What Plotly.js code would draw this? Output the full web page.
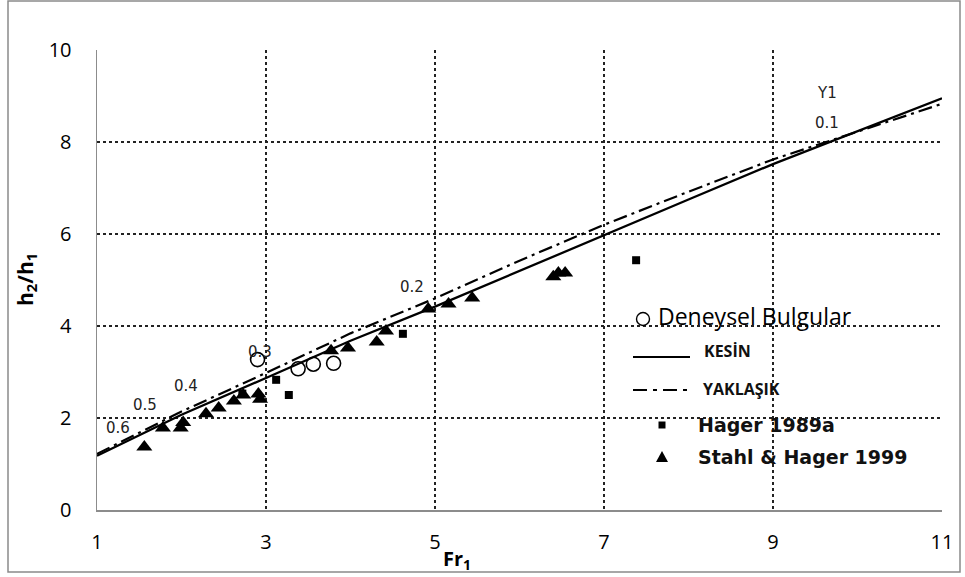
<!DOCTYPE html>
<html>
<head>
<meta charset="utf-8">
<script src="https://cdn.plot.ly/plotly-3.0.1.min.js"></script>
<style>
  html, body { margin: 0; padding: 0; background: #fff; }
  #chart { width: 965px; height: 577px; }
</style>
</head>
<body>
<div id="chart"></div>
<script>
// Froude number grid for the two theoretical curves
const frGrid = [1, 2, 3, 4, 5, 6, 7, 8, 9, 10, 11];
// KESİN (exact) sequent depth ratio
const kesinH = [1.18, 2.07, 2.87, 3.68, 4.42, 5.20, 5.98, 6.75, 7.52, 8.24, 8.95];
// YAKLAŞIK (approximate) sequent depth ratio
const yaklasikH = [1.22, 2.14, 2.98, 3.84, 4.60, 5.42, 6.20, 6.92, 7.62, 8.22, 8.83];

// Deneysel Bulgular (experimental results)
const deneyselFr = [2.90, 3.38, 3.56, 3.80];
const deneyselH = [3.27, 3.07, 3.17, 3.19];

// Hager 1989a
const hagerFr = [2.72, 3.12, 3.27, 4.62, 7.38];
const hagerH = [2.53, 2.83, 2.50, 3.83, 5.43];

// Stahl & Hager 1999
const stahlFr = [1.56, 1.78, 1.99, 2.02, 2.29, 2.44, 2.62, 2.73, 2.91, 2.93,
                 3.77, 3.97, 4.31, 4.42, 4.92, 5.16, 5.44, 6.40, 6.46, 6.54];
const stahlH = [1.37, 1.78, 1.78, 1.90, 2.09, 2.22, 2.37, 2.50, 2.52, 2.41,
                3.46, 3.52, 3.65, 3.89, 4.37, 4.48, 4.61, 5.07, 5.15, 5.15];

// Y1 parameter labels along the curves
const y1Labels = ['0.6', '0.5', '0.4', '0.3', '0.2', '0.1', 'Y1'];
const y1Fr = [1.25, 1.57, 2.05, 2.93, 4.73, 9.64, 9.64];
const y1H = [1.78, 2.28, 2.70, 3.43, 4.84, 8.41, 9.07];

// axis ticks and grid positions
const xTicks = [1, 3, 5, 7, 9, 11];
const xGrid = [3, 5, 7, 9];
const yTicks = [0, 2, 4, 6, 8, 10];

const tickFont = { family: 'Open Sans, sans-serif', size: 20, color: '#000' };

const traces = [
  {
    x: frGrid, y: kesinH, type: 'scatter', mode: 'lines', name: 'KESİN',
    line: { color: '#000', width: 2.3 }
  },
  {
    x: frGrid, y: yaklasikH, type: 'scatter', mode: 'lines', name: 'YAKLAŞIK',
    line: { color: '#000', width: 2.2, dash: '14px,5px,3px,5px' }
  },
  {
    x: stahlFr, y: stahlH, type: 'scatter', mode: 'markers', name: 'Stahl & Hager 1999',
    marker: { symbol: 'triangle-up', size: 14, color: '#000' }
  },
  {
    x: hagerFr, y: hagerH, type: 'scatter', mode: 'markers', name: 'Hager 1989a',
    marker: { symbol: 'square', size: 8, color: '#000' }
  },
  {
    x: deneyselFr, y: deneyselH, type: 'scatter', mode: 'markers', name: 'Deneysel Bulgular',
    marker: { symbol: 'circle-open', size: 14, color: '#000', line: { width: 1.6, color: '#000' } }
  }
];

// helpers: pixel -> paper for the plot area (left 97, right 942, top 50, bottom 510)
const L = 97, R = 942, T = 50, B = 510;
const px = v => (v - L) / (R - L);
const py = v => (B - v) / (B - T);

const annotations = y1Labels.map((t, i) => ({
  x: y1Fr[i], y: y1H[i], xref: 'x', yref: 'y', text: t, showarrow: false,
  font: { family: 'DejaVu Sans, sans-serif', size: 15, color: '#222' },
  xanchor: 'center', yanchor: 'middle'
}));

annotations.push(
  { xref: 'paper', yref: 'paper', x: px(656), y: py(316), text: 'Deneysel Bulgular',
    showarrow: false, xanchor: 'left', yanchor: 'middle',
    font: { family: 'Open Sans, sans-serif', size: 23, color: '#000' } },
  { xref: 'paper', yref: 'paper', x: px(702), y: py(351), text: '<b>KESİN</b>',
    showarrow: false, xanchor: 'left', yanchor: 'middle',
    font: { family: 'Open Sans, sans-serif', size: 16, color: '#111' } },
  { xref: 'paper', yref: 'paper', x: px(701), y: py(389), text: '<b>YAKLAŞIK</b>',
    showarrow: false, xanchor: 'left', yanchor: 'middle',
    font: { family: 'Open Sans, sans-serif', size: 16, color: '#111' } },
  { xref: 'paper', yref: 'paper', x: px(696), y: py(425), text: '<b>Hager 1989a</b>',
    showarrow: false, xanchor: 'left', yanchor: 'middle',
    font: { family: 'DejaVu Sans, sans-serif', size: 19, color: '#111' } },
  { xref: 'paper', yref: 'paper', x: px(696), y: py(457), text: '<b>Stahl &amp; Hager 1999</b>',
    showarrow: false, xanchor: 'left', yanchor: 'middle',
    font: { family: 'DejaVu Sans, sans-serif', size: 19, color: '#111' } },
  // axis titles
  { xref: 'paper', yref: 'paper', x: px(26), y: py(280), text: '<b>h<sub>2</sub>/h<sub>1</sub></b>',
    showarrow: false, textangle: -90, xanchor: 'center', yanchor: 'middle',
    font: { family: 'Open Sans, sans-serif', size: 21, color: '#000' } },
  { xref: 'paper', yref: 'paper', x: px(457), y: py(559), text: '<b>Fr<sub>1</sub></b>',
    showarrow: false, xanchor: 'center', yanchor: 'middle',
    font: { family: 'Open Sans, sans-serif', size: 20, color: '#000' } }
);

const shapes = [
  // outer frame
  { type: 'rect', xref: 'paper', yref: 'paper', x0: px(8), x1: px(960), y0: py(572), y1: py(1),
    line: { color: '#8a8a8a', width: 1.5 }, fillcolor: 'rgba(0,0,0,0)', layer: 'below' },
  // legend key: open circle
  { type: 'circle', xref: 'paper', yref: 'paper', xsizemode: 'pixel', ysizemode: 'pixel',
    xanchor: px(643), yanchor: py(319), x0: -6.5, x1: 6.5, y0: -6.5, y1: 6.5,
    line: { color: '#000', width: 1.4 } },
  // legend key: solid line
  { type: 'line', xref: 'paper', yref: 'paper', x0: px(633), x1: px(690), y0: py(357), y1: py(357),
    line: { color: '#000', width: 2 } },
  // legend key: dash-dot line
  { type: 'line', xref: 'paper', yref: 'paper', x0: px(633), x1: px(690), y0: py(390), y1: py(390),
    line: { color: '#000', width: 2, dash: '14px,6px,4px,6px' } },
  // legend key: square
  { type: 'rect', xref: 'paper', yref: 'paper', xsizemode: 'pixel', ysizemode: 'pixel',
    xanchor: px(662), yanchor: py(425), x0: -3.5, x1: 3.5, y0: -3.5, y1: 3.5,
    fillcolor: '#000', line: { width: 0 } },
  // legend key: triangle
  { type: 'path', xref: 'paper', yref: 'paper', xsizemode: 'pixel', ysizemode: 'pixel',
    xanchor: px(662), yanchor: py(457), path: 'M -6,-5 L 6,-5 L 0,6 Z',
    fillcolor: '#000', line: { width: 0 } }
];

const layout = {
  width: 965, height: 577,
  margin: { l: L, r: 965 - R, t: T, b: 577 - B, pad: 0 },
  paper_bgcolor: '#fff', plot_bgcolor: '#fff',
  showlegend: false,
  xaxis: {
    range: [1, 11], tickvals: xTicks, ticktext: xTicks.map(String),
    showgrid: false,
    minor: { tickvals: xGrid, showgrid: true, gridcolor: '#222', griddash: 'dot', gridwidth: 1.5, ticks: '' },
    zeroline: false, showline: true, linecolor: '#8c8c8c', linewidth: 1.5,
    ticks: '', ticklabelstandoff: 13, tickfont: tickFont, fixedrange: true
  },
  yaxis: {
    range: [0, 10], tickvals: yTicks, ticktext: yTicks.map(String),
    showgrid: true, gridcolor: '#222', griddash: 'dot', gridwidth: 1.5,
    zeroline: false, showline: true, linecolor: '#8c8c8c', linewidth: 1.5,
    ticks: '', ticklabelstandoff: 20, tickfont: tickFont, fixedrange: true
  },
  annotations: annotations,
  shapes: shapes
};

Plotly.newPlot('chart', traces, layout, { staticPlot: true, displayModeBar: false });
</script>
</body>
</html>
